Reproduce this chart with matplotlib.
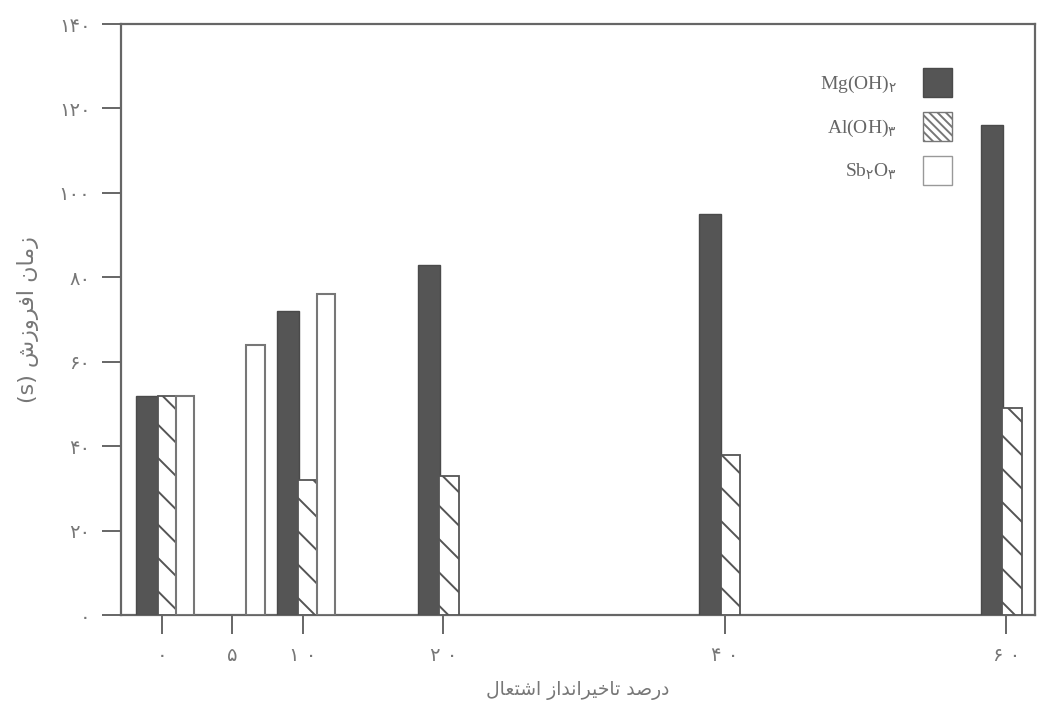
import numpy as np
import matplotlib
matplotlib.use("Agg")
import matplotlib.pyplot as plt
from matplotlib.patches import Patch

# ---------- data ----------
loadings = [0, 5, 10, 20, 40, 60]                 # flame-retardant loading (%)
mg_oh2 = [52, np.nan, 72, 83, 95, 116]            # ignition time (s)
al_oh3 = [52, np.nan, 32, 33, 38, 49]
sb2o3 = [52, 64, 76, np.nan, np.nan, np.nan]
yticks = [0, 20, 40, 60, 80, 100, 120, 140]
series_names = ["Mg(OH)$_\\mathrm{۲}$", "Al(OH)$_\\mathrm{۳}$", "Sb$_\\mathrm{۲}$O$_\\mathrm{۳}$"]
xlabel_fa = "درصد تاخیرانداز اشتعال"
ylabel_fa = "زمان افروزش"

FA_DIGITS = str.maketrans("0123456789", "۰۱۲۳۴۵۶۷۸۹")

# minimal Persian shaping -> presentation forms, visual (LTR) order
FORMS = {  # iso, fin, ini, med
    "ا": ("\uFE8D", "\uFE8E", None, None),
    "ت": ("\uFE95", "\uFE96", "\uFE97", "\uFE98"),
    "خ": ("\uFEA5", "\uFEA6", "\uFEA7", "\uFEA8"),
    "د": ("\uFEA9", "\uFEAA", None, None),
    "ر": ("\uFEAD", "\uFEAE", None, None),
    "ز": ("\uFEAF", "\uFEB0", None, None),
    "ش": ("\uFEB5", "\uFEB6", "\uFEB7", "\uFEB8"),
    "ص": ("\uFEB9", "\uFEBA", "\uFEBB", "\uFEBC"),
    "ع": ("\uFEC9", "\uFECA", "\uFECB", "\uFECC"),
    "ف": ("\uFED1", "\uFED2", "\uFED3", "\uFED4"),
    "ل": ("\uFEDD", "\uFEDE", "\uFEDF", "\uFEE0"),
    "م": ("\uFEE1", "\uFEE2", "\uFEE3", "\uFEE4"),
    "ن": ("\uFEE5", "\uFEE6", "\uFEE7", "\uFEE8"),
    "و": ("\uFEED", "\uFEEE", None, None),
    "ی": ("\uFBFC", "\uFBFD", "\uFBFE", "\uFBFF"),
}

def shape_fa(s):
    out = []
    for i, ch in enumerate(s):
        if ch not in FORMS:
            out.append(ch); continue
        prv = s[i - 1] if i > 0 else " "
        nxt = s[i + 1] if i + 1 < len(s) else " "
        jp = prv in FORMS and FORMS[prv][2] is not None
        jn = nxt in FORMS and FORMS[ch][2] is not None
        iso, fin, ini, med = FORMS[ch]
        out.append(med if jp and jn else fin if jp else ini if jn else iso)
    return "".join(out[::-1])

GRAY = "#666666"
plt.rcParams["hatch.linewidth"] = 1.4
plt.rcParams["hatch.color"] = "#3a3a3a"

fig = plt.figure(figsize=(10.43, 7.07), dpi=100)
ax = fig.add_axes([0.116, 0.130, 0.876, 0.836])

x = np.array(loadings, dtype=float)
ax.bar(x - 1.05, mg_oh2, width=1.55, color="#555555", edgecolor="#4a4a4a",
       lw=1.0, zorder=3)
ax.bar(x + 0.4, al_oh3, width=1.4, color="white", edgecolor="#555555",
       lw=1.3, hatch="\\", zorder=3)
ax.bar(x + 1.65, sb2o3, width=1.3, color="white", edgecolor="#777777",
       lw=1.5, zorder=3)

ax.set_xlim(-2.9, 62.0)
ax.set_ylim(0, 140)
ax.set_xticks(loadings)
ax.set_xticklabels([" ".join(str(v).translate(FA_DIGITS)) for v in loadings],
                   fontsize=14, color="#777777", family="DejaVu Sans")
ax.set_yticks(yticks)
ax.set_yticklabels([str(v).translate(FA_DIGITS) for v in yticks],
                   fontsize=14, color="#777777", family="DejaVu Sans")
ax.tick_params(direction="out", length=14, width=1.4, color=GRAY, pad=8)
for s in ax.spines.values():
    s.set_color(GRAY); s.set_linewidth(1.6)

ax.set_xlabel(shape_fa(xlabel_fa), fontsize=13.5, color="#777777",
              family="DejaVu Sans", labelpad=12)
ax.set_ylabel("(s) " + shape_fa(ylabel_fa), fontsize=16, color="#777777",
              family="DejaVu Sans", labelpad=14)

handles = [Patch(facecolor="#555555", edgecolor="#4a4a4a"),
           Patch(facecolor="white", edgecolor="#777777", hatch="\\\\\\\\"),
           Patch(facecolor="white", edgecolor="#999999")]
leg = ax.legend(handles, series_names, loc="upper right",
                bbox_to_anchor=(952 / 1043, 1 - 68 / 707),
                bbox_transform=fig.transFigure, frameon=False, markerfirst=False,
                prop={"family": "Liberation Serif", "size": 14},
                handlelength=1.5, handleheight=1.9, labelspacing=0.78,
                handletextpad=1.35, borderpad=0, borderaxespad=0)
for t in leg.get_texts():
    t.set_color("#666666")

fig.savefig("out.png", dpi=100)
